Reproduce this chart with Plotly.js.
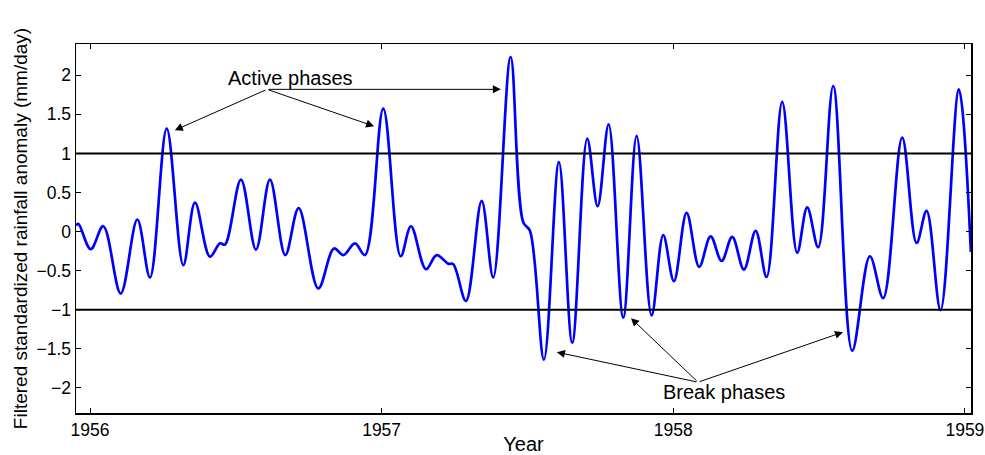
<!DOCTYPE html>
<html>
<head>
<meta charset="utf-8">
<script src="https://cdn.plot.ly/plotly-3.0.1.min.js"></script>
<style>html,body{margin:0;padding:0;background:#fff;}#chart{width:985px;height:455px;}</style>
</head>
<body>
<div id="chart"></div>
<script>
// Decimal year of each read point
const years = [1955.952, 1955.960, 1956.0024, 1956.0456, 1956.1053, 1956.1622, 1956.2057, 1956.2630,
  1956.3199, 1956.3600, 1956.4114, 1956.4457, 1956.4629, 1956.5177, 1956.5691, 1956.6171,
  1956.6696, 1956.7155, 1956.7827, 1956.8366, 1956.8685, 1956.9086, 1956.9429, 1957.0056,
  1957.0653, 1957.1006, 1957.1520, 1957.1887, 1957.2285, 1957.2456, 1957.2891, 1957.3430,
  1957.3827, 1957.4424, 1957.4856, 1957.5086, 1957.5566, 1957.6080, 1957.6536, 1957.7050,
  1957.7407, 1957.7784, 1957.8285, 1957.8744, 1957.9258, 1957.9656, 1958.0023, 1958.0458,
  1958.0890, 1958.1281, 1958.1658, 1958.2022, 1958.2423, 1958.2824, 1958.3201, 1958.3736,
  1958.4250, 1958.4593, 1958.4970, 1958.5485, 1958.6136, 1958.6743, 1958.7199, 1958.7850,
  1958.8344, 1958.8687, 1958.9167, 1958.9794, 1959.0206];
// Filtered standardized rainfall anomaly (mm/day)
const anomaly = [0.08, 0.10, -0.225, 0.069, -0.792, 0.155, -0.587, 1.318,
  -0.43, 0.37, -0.32, -0.15, -0.165, 0.666, -0.23, 0.666,
  -0.30, 0.30, -0.727, -0.216, -0.30, -0.15, -0.30, 1.574,
  -0.315, 0.069, -0.481, -0.30, -0.41, -0.417, -0.886, 0.393,
  -0.587, 2.234, 0.12, 0.01, -1.636, 0.89, -1.42, 1.19,
  0.325, 1.373, -1.10, 1.224, -1.07, -0.046, -0.634, 0.24,
  -0.45, -0.06, -0.375, -0.068, -0.485, 0.01, -0.58, 1.66,
  -0.27, 0.31, -0.20, 1.863, -1.525, -0.315, -0.85, 1.203,
  -0.145, 0.265, -1.005, 1.82, -0.26];

const thresholds = [1, -1];
const xTickVals = [1956, 1957, 1958, 1959];
const xTickText = ['1956', '1957', '1958', '1959'];
const yTickVals = [-2, -1.5, -1, -0.5, 0, 0.5, 1, 1.5, 2];
const yTickText = ['\u22122', '\u22121.5', '\u22121', '\u22120.5', '0', '0.5', '1', '1.5', '2'];

// Annotation labels and arrows: [tipX, tipY]
const activeLabel = {text: 'Active phases', x: 1956.686, y: 1.96, tailX: 1956.607, tailY: 1.82};
const activeTips = [[1956.291, 1.297], [1956.974, 1.348], [1957.409, 1.82]];
const breakLabel = {text: 'Break phases', x: 1958.174, y: -2.05, tailX: 1958.085, tailY: -1.926};
const breakTips = [[1957.601, -1.542], [1957.855, -1.107], [1958.582, -1.286]];

const font = 'Liberation Sans, Arial, Helvetica, sans-serif';

const annotations = [];
function addGroup(label, tips) {
  annotations.push({x: label.x, y: label.y, xref: 'x', yref: 'y', text: label.text, showarrow: false,
    font: {family: font, size: 20, color: '#000'}});
  tips.forEach(t => annotations.push({
    x: t[0], y: t[1], xref: 'x', yref: 'y', ax: label.tailX, ay: label.tailY, axref: 'x', ayref: 'y',
    text: '', showarrow: true, arrowhead: 2, arrowsize: 1.6, arrowwidth: 1, arrowcolor: '#000', standoff: 0, startstandoff: 0
  }));
}
addGroup(activeLabel, activeTips);
addGroup(breakLabel, breakTips);

const shapes = thresholds.map(v => ({type: 'line', xref: 'paper', x0: 0, x1: 1, yref: 'y', y0: v, y1: v,
  line: {color: '#000', width: 2}}));

const trace = {x: years, y: anomaly, type: 'scatter', mode: 'lines',
  line: {color: '#0000ff', width: 2.7, shape: 'spline', smoothing: 1}, hoverinfo: 'skip'};

const layout = {
  width: 985, height: 455,
  margin: {l: 76, r: 14, t: 44, b: 42},
  paper_bgcolor: '#fff', plot_bgcolor: '#fff',
  showlegend: false,
  font: {family: font, size: 18, color: '#000'},
  xaxis: {range: [1955.952, 1959.021], tickvals: xTickVals, ticktext: xTickText,
    ticks: 'inside', ticklen: 5, tickwidth: 1, tickcolor: '#000', mirror: 'ticks',
    showline: true, linecolor: '#000', linewidth: 1.5, showgrid: false, zeroline: false,
    tickfont: {family: font, size: 17.5, color: '#000'},
    title: {text: 'Year', font: {family: font, size: 20, color: '#000'}, standoff: 5}, automargin: false},
  yaxis: {range: [-2.32, 2.40], tickvals: yTickVals, ticktext: yTickText,
    ticks: 'inside', ticklen: 5, tickwidth: 1, tickcolor: '#000', mirror: 'ticks',
    showline: true, linecolor: '#000', linewidth: 1.5, showgrid: false, zeroline: false,
    tickfont: {family: font, size: 17.5, color: '#000'},
    title: {text: 'Filtered standardized rainfall anomaly (mm/day)', font: {family: font, size: 19, color: '#000'}, standoff: 4},
    automargin: false},
  shapes: shapes,
  annotations: annotations
};

Plotly.newPlot('chart', [trace], layout, {displayModeBar: false, staticPlot: true});
</script>
</body>
</html>
